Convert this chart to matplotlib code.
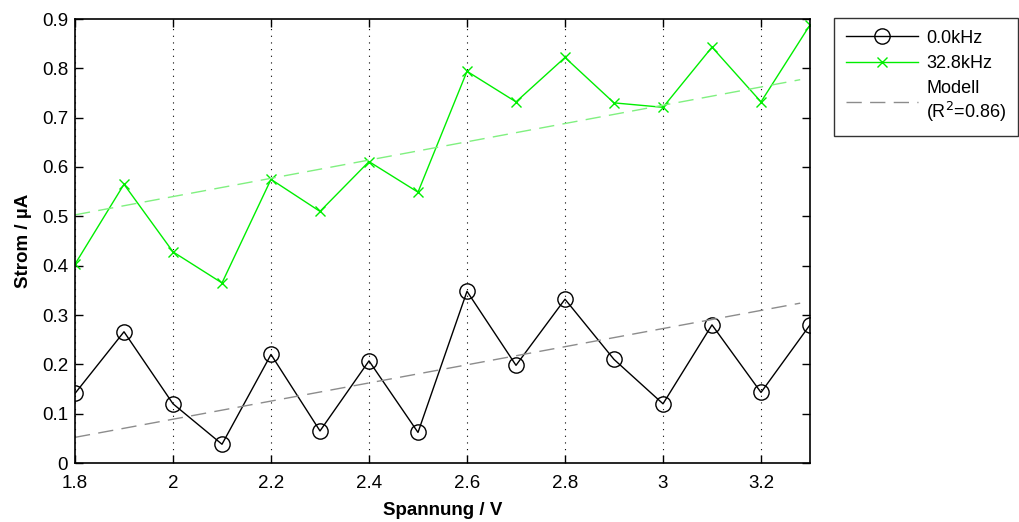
import matplotlib
matplotlib.use("Agg")
import matplotlib.pyplot as plt
import numpy as np
from matplotlib.ticker import FuncFormatter

plt.rcParams['font.family'] = ['Liberation Sans', 'DejaVu Sans']

spannung = [1.8, 1.9, 2.0, 2.1, 2.2, 2.3, 2.4, 2.5, 2.6, 2.7, 2.8, 2.9, 3.0, 3.1, 3.2, 3.3]
strom_0khz = [0.141, 0.266, 0.120, 0.038, 0.220, 0.065, 0.207, 0.062,
              0.348, 0.198, 0.332, 0.210, 0.120, 0.280, 0.143, 0.280]
strom_32khz = [0.403, 0.565, 0.428, 0.365, 0.575, 0.510, 0.611, 0.549,
               0.794, 0.732, 0.822, 0.730, 0.721, 0.843, 0.732, 0.888]
model_x = [1.8, 3.28]
model_0khz = [0.052, 0.324]
model_32khz = [0.503, 0.777]
labels = ['0.0kHz', '32.8kHz', 'Modell\n(R$^2$=0.86)']

fig = plt.figure(figsize=(10.19, 5.22), dpi=100)
ax = fig.add_axes([75/1019, 1-463/522, (810-75)/1019, (463-19)/522])

ax.plot(spannung, strom_0khz, color='black', lw=1, marker='o', ms=11,
        mfc='none', mec='black', mew=1, label=labels[0])
ax.plot(spannung, strom_32khz, color='#00ee00', lw=1, marker='x', ms=7.5,
        mew=1, label=labels[1])
ax.plot(model_x, model_0khz, color='#8c8c8c', lw=1, ls=(0, (11, 6)), label=labels[2])
ax.plot(model_x, model_32khz, color='#80f080', lw=1, ls=(0, (11, 6)))

ax.set_xlim(1.8, 3.3)
ax.set_ylim(0, 0.9)
ax.set_xticks([1.8, 2.0, 2.2, 2.4, 2.6, 2.8, 3.0, 3.2])
ax.set_yticks(np.arange(0, 0.91, 0.1))
ax.xaxis.set_major_formatter(FuncFormatter(lambda v, p: f"{v:g}"))
ax.yaxis.set_major_formatter(FuncFormatter(lambda v, p: f"{round(v, 1):g}"))
ax.tick_params(direction='in', top=True, right=True, length=6, labelsize=13.5, width=1)
ax.tick_params(axis='x', pad=9)
ax.tick_params(axis='y', pad=5)
ax.xaxis.grid(True, color='black', ls=(0, (1, 5)), lw=0.8)
for s in ax.spines.values():
    s.set_linewidth(1.2)

ax.set_xlabel('Spannung / V', fontsize=13.5, fontweight='bold', labelpad=7)
ax.set_ylabel('Strom / µA', fontsize=13.5, fontweight='bold', labelpad=7)

leg = ax.legend(loc='upper left', bbox_to_anchor=(834/1019, 1-18/522),
                bbox_transform=fig.transFigure, fontsize=13, frameon=True,
                fancybox=False, edgecolor='black', borderaxespad=0,
                handlelength=4.0, handletextpad=0.45, labelspacing=0.45, borderpad=0.65)
leg.get_frame().set_linewidth(1)
for t in leg.get_texts():
    t.set_multialignment('left')
    t.set_linespacing(1.15)

fig.savefig('out.png', dpi=100)
